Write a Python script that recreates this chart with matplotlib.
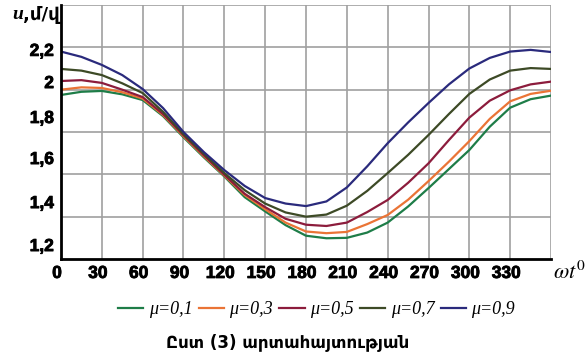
import numpy as np
import matplotlib
matplotlib.use("Agg")
import matplotlib.pyplot as plt
import matplotlib.transforms as mtrans
import matplotlib.patheffects as pe

plt.rcParams['font.family'] = ['Liberation Sans', 'DejaVu Sans']
plt.rcParams['mathtext.fontset'] = 'stix'

# angle, degrees
deg = [0, 15, 30, 45, 60, 75, 90, 105, 120, 135, 150, 165, 180,
       195, 210, 225, 240, 255, 270, 285, 300, 315, 330, 345, 360]

# u values for each mu
u_01 = [1.975, 1.990, 1.994, 1.978, 1.951, 1.875, 1.775, 1.680, 1.590, 1.492, 1.425, 1.360, 1.310,
        1.298, 1.300, 1.325, 1.372, 1.448, 1.535, 1.625, 1.715, 1.825, 1.915, 1.955, 1.972]
u_03 = [2.000, 2.011, 2.008, 1.988, 1.958, 1.880, 1.780, 1.685, 1.594, 1.502, 1.435, 1.372, 1.330,
        1.322, 1.328, 1.365, 1.408, 1.480, 1.568, 1.660, 1.757, 1.862, 1.945, 1.980, 1.995]
u_05 = [2.041, 2.045, 2.032, 2.000, 1.965, 1.885, 1.785, 1.690, 1.598, 1.508, 1.445, 1.390, 1.362,
        1.356, 1.372, 1.422, 1.479, 1.560, 1.652, 1.762, 1.868, 1.948, 1.997, 2.025, 2.038]
u_07 = [2.098, 2.090, 2.069, 2.030, 1.984, 1.895, 1.790, 1.697, 1.606, 1.525, 1.462, 1.420, 1.400,
        1.410, 1.452, 1.522, 1.606, 1.692, 1.786, 1.885, 1.980, 2.048, 2.090, 2.102, 2.098]
u_09 = [2.180, 2.155, 2.117, 2.069, 2.003, 1.913, 1.800, 1.705, 1.620, 1.545, 1.488, 1.462, 1.450,
        1.472, 1.538, 1.638, 1.747, 1.845, 1.937, 2.025, 2.100, 2.150, 2.180, 2.188, 2.178]

series = [u_01, u_03, u_05, u_07, u_09]
labels = ['μ=0,1', 'μ=0,3', 'μ=0,5', 'μ=0,7', 'μ=0,9']
colors = ['#1e7d48', '#ea7436', '#8c1c3c', '#3d4a26', '#2a2a7c']

xticks = [0, 30, 60, 90, 120, 150, 180, 210, 240, 270, 300, 330]
ytick_text = ['2,2', '2', '1,8', '1,6', '1,4', '1,2']
# labels sit a little off the grid lines in the original
ytick_pos = [2.188, 2.036, 1.871, 1.677, 1.469, 1.266]

fig = plt.figure(figsize=(5.87, 3.55), dpi=100)
ax = fig.add_axes([0.1039, 0.2704, 0.8348, 0.7155])

for u, lab, c in zip(series, labels, colors):
    ax.plot(deg, u, color=c, lw=1.6, label=lab, solid_joinstyle='round')

ax.set_xlim(0, 360)
ax.set_ylim(1.2, 2.4)

# grid
for gx in range(30, 361, 30):
    ax.axvline(gx, color='#a0a0a0', lw=1.2, zorder=0)
for gy in np.arange(1.4, 2.41, 0.2):
    ax.axhline(gy, color='#a0a0a0', lw=1.2, zorder=0)

tick_font = dict(fontsize=12.5, fontweight='bold', family='Liberation Sans')
ax.set_xticks(xticks)
ax.set_xticklabels([str(t) for t in xticks], **tick_font)
ax.set_yticks(ytick_pos)
ax.set_yticklabels(ytick_text, **tick_font)
ax.tick_params(length=0, pad=5)
thick = [pe.withStroke(linewidth=0.6, foreground='black')]
shift = mtrans.ScaledTranslation(-4 / 100, 0, fig.dpi_scale_trans)
for t in ax.get_xticklabels():
    t.set_transform(t.get_transform() + shift)
    t.set_path_effects(thick)
for t in ax.get_yticklabels():
    t.set_path_effects(thick)

for s in ['top', 'right']:
    ax.spines[s].set_visible(False)
ax.spines['left'].set_linewidth(2)
ax.spines['bottom'].set_linewidth(2)

fig.text(0.021, 0.958, 'u', fontsize=14, fontweight='bold', style='italic',
         family='Liberation Serif', va='center')
fig.text(0.040, 0.958, ',մ/վ', fontsize=13, fontweight='bold',
         family=['DejaVu Sans'], va='center')
fig.text(0.942, 0.233, r'$\omega t^{0}$', fontsize=16, va='center')

leg = fig.legend(loc='center', bbox_to_anchor=(0.539, 0.127), ncol=5, frameon=False,
                 handlelength=1.4, handletextpad=0.3, columnspacing=0.35,
                 prop={'family': 'Liberation Serif', 'style': 'italic', 'size': 13})

fig.text(0.49, 0.037, 'Ըստ (3) արտահայտության', fontsize=12, fontweight='bold',
         family=['DejaVu Sans'], ha='center', va='center')

fig.savefig('out.png', dpi=100)
